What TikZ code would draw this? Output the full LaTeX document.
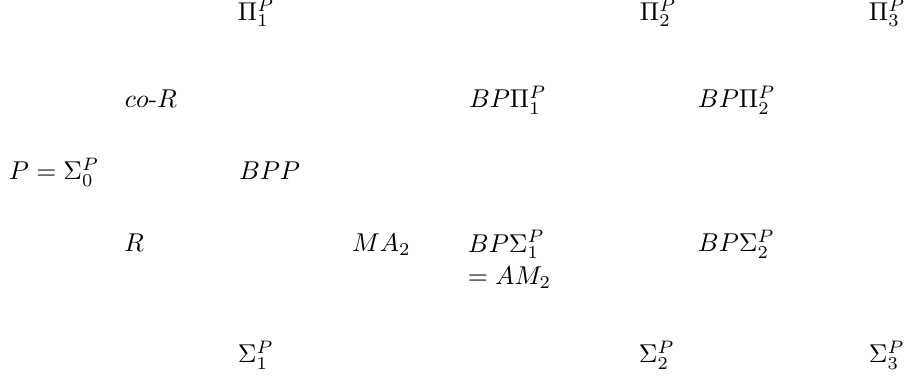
\documentclass[tikz,border=0pt]{standalone}
\begin{document}
\begin{tikzpicture}[x=0.388pt,y=-0.388pt,
  cls/.style={anchor=base west,inner sep=0pt,outer sep=0pt}]
\clip (0,0) rectangle (906,379);
\fill[white] (0,0) rectangle (906,379);
% top row
\node[cls] (pi1) at (238,20.5) {$\Pi_1^P$};
\node[cls] (pi2) at (640,20.5) {$\Pi_2^P$};
\node[cls] (pi3) at (869,20.5) {$\Pi_3^P$};
% second row
\node[cls] (coR) at (125,108) {$co$-$R$};
\node[cls] (bppi1) at (469,108) {$BP\Pi_1^P$};
\node[cls] (bppi2) at (698,108) {$BP\Pi_2^P$};
% middle row
\node[cls] (P) at (9,180) {$P = \Sigma_0^P$};
\node[cls] (bpp) at (239,180) {$BPP$};
% fourth row
\node[cls] (R) at (124,252) {$R$};
\node[cls] (ma2) at (352,252) {$MA_2$};
\node[cls,align=left] (bpsig1) at (468,285) {$BP\Sigma_1^P$\\[0.8pt]$= AM_2$};
\node[cls] (bpsig2) at (698,252) {$BP\Sigma_2^P$};
% bottom row
\node[cls] (sig1) at (238,363) {$\Sigma_1^P$};
\node[cls] (sig2) at (639,363) {$\Sigma_2^P$};
\node[cls] (sig3) at (869,363) {$\Sigma_3^P$};
\end{tikzpicture}
\end{document}
